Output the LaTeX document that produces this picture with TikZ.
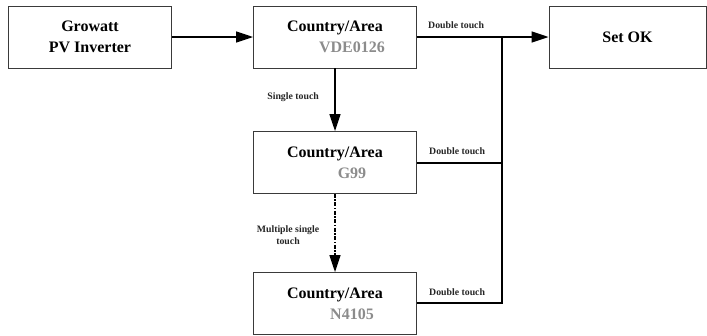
\documentclass[tikz,border=0pt]{standalone}
\usepackage{fontspec}
\setmainfont{Liberation Serif}
\usetikzlibrary{arrows.meta}
\definecolor{codegray}{HTML}{8C8C8C}
\definecolor{boxline}{HTML}{3A3A3A}
\begin{document}
\begin{tikzpicture}[x=1pt,y=-1pt,
  box/.style={draw=boxline,line width=0.9pt,minimum width=163pt,minimum height=62pt,inner sep=0pt,align=center,
    font=\fontsize{16}{21}\selectfont\bfseries},
  conn/.style={line width=1.3pt,draw=black},
  tip/.style={-{Triangle[length=17pt,width=11pt]}},
  lbl/.style={font=\fontsize{9.8}{12}\selectfont\bfseries,inner sep=0pt,text=black!85}]
\useasboundingbox (0,0) rectangle (707,335);
\newcommand{\codetxt}[1]{\hspace*{34pt}\textcolor{codegray}{#1}}
\node[box] (inv) at (90,37) {Growatt\\PV Inverter};
\node[box] (vde) at (335,37) {Country/Area\\\codetxt{VDE0126}};
\node[box, minimum width=157pt] (ok) at (627.5,37) {Set OK};
\node[box] (g99) at (335,162.5) {Country/Area\\\codetxt{G99}};
\node[box] (n41) at (335,303.5) {Country/Area\\\codetxt{N4105}};
\coordinate (j1) at (502,37);
\coordinate (j2) at (502,163);
\coordinate (j3) at (502,303);
\draw[conn,tip] (inv.east) -- (vde.west);
\draw[conn,tip] (vde.east) -- (ok.west);
\draw[conn] (g99.east |- j2) -- (j2);
\draw[conn] (n41.east |- j3) -- (j3) -- (j1);
\draw[conn,tip] (vde.south) -- (g99.north);
\draw[conn,tip,dash pattern=on 4pt off 1.5pt on 1.5pt off 1.5pt] (g99.south) -- (n41.north);
\node[lbl,anchor=west] (l1) at (428,25) {Double touch};
\node[lbl,anchor=west] (l2) at (429,151) {Double touch};
\node[lbl,anchor=west] (l3) at (429,292) {Double touch};
\node[lbl,anchor=east] (l4) at (319,97) {Single touch};
\node[lbl,align=center] (l5) at (288,235) {Multiple single\\touch};
\end{tikzpicture}
\end{document}
